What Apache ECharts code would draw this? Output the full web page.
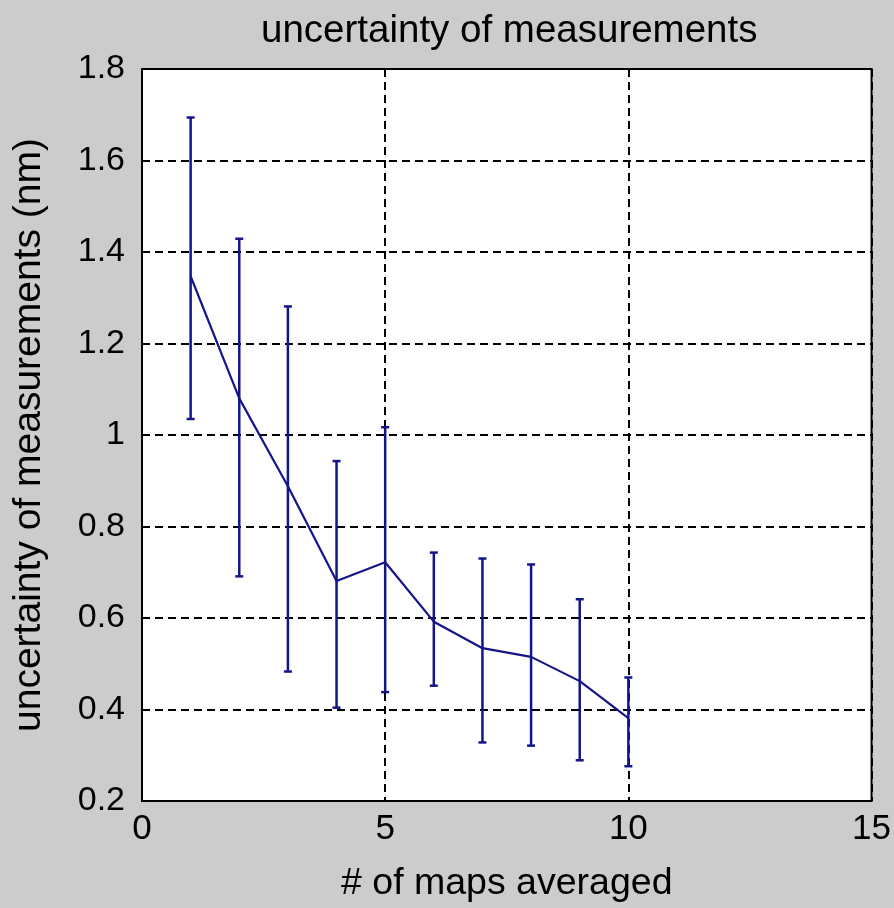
<!DOCTYPE html>
<html>
<head>
<meta charset="utf-8">
<script src="https://cdn.jsdelivr.net/npm/echarts@6/dist/echarts.min.js"></script>
<style>
html,body{margin:0;padding:0;background:#cccccc;}
#chart{width:894px;height:908px;}
</style>
</head>
<body>
<div id="chart"></div>
<script>
const mapsAveraged = [1, 2, 3, 4, 5, 6, 7, 8, 9, 10];
const uncertaintyMean = [1.347, 1.080, 0.888, 0.681, 0.722, 0.592, 0.534, 0.515, 0.462, 0.381];
const errorLow = [1.035, 0.691, 0.483, 0.404, 0.438, 0.452, 0.328, 0.321, 0.289, 0.276];
const errorHigh = [1.694, 1.429, 1.281, 0.943, 1.017, 0.743, 0.730, 0.717, 0.641, 0.470];
const xTicks = [0, 5, 10, 15];
const yTicks = [0.2, 0.4, 0.6, 0.8, 1.0, 1.2, 1.4, 1.6, 1.8];

const FONT = '"Liberation Sans", Arial, sans-serif';
const BLUE = '#15158a';

const chart = echarts.init(document.getElementById('chart'), null, {renderer: 'canvas'});

const lineData = mapsAveraged.map((x, i) => [x, uncertaintyMean[i]]);
const errData = mapsAveraged.map((x, i) => [x, errorLow[i], errorHigh[i]]);

const option = {
  backgroundColor: '#cccccc',
  animation: false,
  title: {
    text: 'uncertainty of measurements',
    left: 256,
    top: 7,
    textStyle: {fontFamily: FONT, fontSize: 38.5, fontWeight: 'normal', color: '#000'}
  },
  grid: {
    left: 142, right: 22, top: 69, bottom: 105,
    show: true, backgroundColor: '#ffffff', borderColor: '#000', borderWidth: 2
  },
  xAxis: {
    type: 'value',
    min: xTicks[0], max: xTicks[xTicks.length - 1], interval: 5,
    name: '# of maps averaged',
    nameLocation: 'middle',
    nameGap: 64,
    nameTextStyle: {fontFamily: FONT, fontSize: 37.5, color: '#000'},
    axisLine: {show: false},
    axisTick: {show: false},
    axisLabel: {fontFamily: FONT, fontSize: 35, color: '#000', margin: 11},
    splitLine: {show: true, lineStyle: {color: '#000', width: 2, type: [8, 5]}}
  },
  yAxis: {
    type: 'value',
    min: yTicks[0], max: yTicks[yTicks.length - 1], interval: 0.2,
    name: 'uncertainty of measurements (nm)',
    nameLocation: 'middle',
    nameGap: 93,
    nameTextStyle: {fontFamily: FONT, fontSize: 39, color: '#000'},
    axisLine: {show: false},
    axisTick: {show: false},
    axisLabel: {
      fontFamily: FONT, fontSize: 34, color: '#000', margin: 17,
      formatter: v => String(+v.toFixed(1))
    },
    splitLine: {show: true, lineStyle: {color: '#000', width: 2, type: [8, 5]}}
  },
  series: [
    {
      type: 'custom',
      data: errData,
      z: 3,
      renderItem: function (params, api) {
        const x = api.value(0);
        const lo = api.coord([x, api.value(1)]);
        const hi = api.coord([x, api.value(2)]);
        const cw = 4;
        const style = {stroke: BLUE, lineWidth: 2.5, fill: null};
        return {
          type: 'group',
          children: [
            {type: 'line', shape: {x1: lo[0], y1: lo[1], x2: hi[0], y2: hi[1]}, style: style},
            {type: 'line', shape: {x1: hi[0] - cw, y1: hi[1], x2: hi[0] + cw, y2: hi[1]}, style: style},
            {type: 'line', shape: {x1: lo[0] - cw, y1: lo[1], x2: lo[0] + cw, y2: lo[1]}, style: style}
          ]
        };
      }
    },
    {
      type: 'line',
      data: lineData,
      z: 4,
      symbol: 'none',
      lineStyle: {color: BLUE, width: 2.2}
    }
  ]
};
chart.setOption(option);
</script>
</body>
</html>
